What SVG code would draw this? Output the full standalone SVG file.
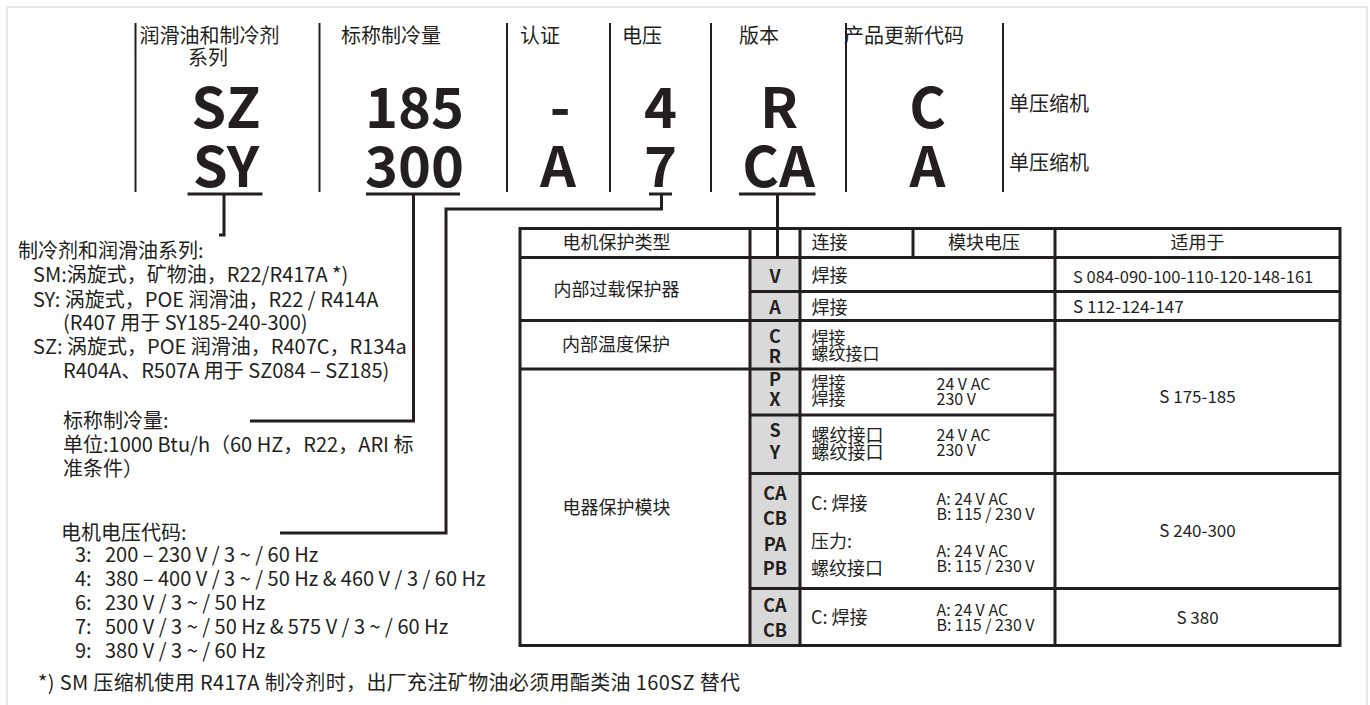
<svg xmlns="http://www.w3.org/2000/svg" width="1370" height="705" viewBox="0 0 1370 705">
<style>
text { font-family: "Noto Sans CJK SC", "Liberation Sans", sans-serif; fill: #231f20; }
.lbl { font-size: 20px; }
.big { font-size: 56px; font-weight: 700; text-anchor: middle; }
.txt { font-size: 20px; }
.foot { font-size: 20px; letter-spacing: 0.35px; }
.tb { font-size: 17px; }
.tv { font-size: 16px; }
.tc { font-size: 18px; }
.ts { font-size: 17px; }
.mid { text-anchor: middle; }
.code { font-size: 18px; font-weight: 700; text-anchor: middle; }
.div { stroke: #231f20; stroke-width: 2; }
.conn { stroke: #231f20; stroke-width: 3; fill: none; }
.tl { stroke: #231f20; stroke-width: 3; fill: none; }
</style>
<rect x="0" y="0" width="1370" height="705" fill="#ffffff"/>
<rect x="7" y="7" width="1360" height="720" fill="#ffffff" stroke="#e4e7eb" stroke-width="2"/>

<g id="header-dividers">
  <line class="div" x1="135.5" y1="23" x2="135.5" y2="192"/>
  <line class="div" x1="319.5" y1="23" x2="319.5" y2="192"/>
  <line class="div" x1="507" y1="23" x2="507" y2="192"/>
  <line class="div" x1="610" y1="23" x2="610" y2="192"/>
  <line class="div" x1="711" y1="23" x2="711" y2="192"/>
  <line class="div" x1="846" y1="23" x2="846" y2="192"/>
  <line class="div" x1="1003" y1="23" x2="1003" y2="192"/>
</g>

<g id="col-series">
  <text class="lbl mid" x="209.5" y="43">润滑油和制冷剂</text>
  <text class="lbl mid" x="208" y="65">系列</text>
  <text class="big" x="226" y="128">SZ</text>
  <text class="big" x="226" y="187">SY</text>
</g>
<g id="col-capacity">
  <text class="lbl" x="341" y="43">标称制冷量</text>
  <text class="big" x="414.5" y="128">185</text>
  <text class="big" x="414.5" y="187">300</text>
</g>
<g id="col-approval">
  <text class="lbl" x="520" y="43">认证</text>
  <text class="big" x="560" y="128">-</text>
  <text class="big" x="558" y="187">A</text>
</g>
<g id="col-voltage">
  <text class="lbl" x="622" y="43">电压</text>
  <text class="big" x="660.5" y="128">4</text>
  <text class="big" x="660.5" y="187">7</text>
</g>
<g id="col-version">
  <text class="lbl" x="739" y="43">版本</text>
  <text class="big" x="779" y="128">R</text>
  <text class="big" x="778.5" y="187">CA</text>
</g>
<g id="col-update">
  <text class="lbl" x="844" y="43">产品更新代码</text>
  <text class="big" x="927.5" y="128">C</text>
  <text class="big" x="927.5" y="187">A</text>
</g>
<g id="col-type">
  <text class="lbl" x="1009" y="111">单压缩机</text>
  <text class="lbl" x="1009" y="170">单压缩机</text>
</g>

<g id="connectors">
  <line class="conn" x1="187.5" y1="194" x2="262.5" y2="194"/>
  <path class="conn" d="M224 194 V235 H219"/>
  <line class="conn" x1="366" y1="194" x2="460" y2="194"/>
  <path class="conn" d="M413.5 194 V421 H250"/>
  <line class="conn" x1="649" y1="194" x2="672" y2="194"/>
  <path class="conn" d="M661.5 194 V209 H446 V533 H280"/>
  <line class="conn" x1="739" y1="194" x2="815.5" y2="194"/>
  <path class="conn" d="M777.5 194 V257"/>
</g>

<g id="note-series">
  <text class="txt" x="18" y="258">制冷剂和润滑油系列:</text>
  <text class="txt" x="33" y="282">SM:涡旋式，矿物油，R22/R417A *)</text>
  <text class="txt" x="33" y="307">SY: 涡旋式，POE 润滑油，R22 / R414A</text>
  <text class="txt" x="63" y="330">(R407 用于 SY185-240-300)</text>
  <text class="txt" x="33" y="354">SZ: 涡旋式，POE 润滑油，R407C，R134a</text>
  <text class="txt" x="63" y="378">R404A、R507A 用于 SZ084 – SZ185)</text>
</g>
<g id="note-capacity">
  <text class="txt" x="63" y="428">标称制冷量:</text>
  <text class="txt" x="63" y="452">单位:1000 Btu/h（60 HZ，R22，ARI 标</text>
  <text class="txt" x="63" y="476">准条件）</text>
</g>
<g id="note-voltage">
  <text class="txt" x="61" y="540">电机电压代码:</text>
  <text class="txt" x="75" y="562">3:</text><text class="txt" x="105" y="562">200 – 230 V / 3 ~ / 60 Hz</text>
  <text class="txt" x="75" y="586">4:</text><text class="txt" x="105" y="586">380 – 400 V / 3 ~ / 50 Hz &amp; 460 V / 3 / 60 Hz</text>
  <text class="txt" x="75" y="610">6:</text><text class="txt" x="105" y="610">230 V / 3 ~ / 50 Hz</text>
  <text class="txt" x="75" y="634">7:</text><text class="txt" x="105" y="634">500 V / 3 ~ / 50 Hz &amp; 575 V / 3 ~ / 60 Hz</text>
  <text class="txt" x="75" y="658">9:</text><text class="txt" x="105" y="658">380 V / 3 ~ / 60 Hz</text>
</g>
<g id="footnote">
  <text class="foot" x="38" y="690">*) SM 压缩机使用 R417A 制冷剂时，出厂充注矿物油必须用酯类油 160SZ 替代</text>
</g>

<g id="protection-table">
  <rect x="750" y="257.5" width="50" height="388" fill="#d9d9d9"/>
  <rect class="tl" x="520" y="228.5" width="820" height="417"/>
  <line class="tl" x1="520" y1="257.5" x2="1340" y2="257.5"/>
  <line class="tl" x1="750" y1="228.5" x2="750" y2="645.5"/>
  <line class="tl" x1="800" y1="228.5" x2="800" y2="645.5"/>
  <line class="tl" x1="1055" y1="228.5" x2="1055" y2="645.5"/>
  <line class="tl" x1="913" y1="228.5" x2="913" y2="257.5"/>
  <line class="tl" x1="750" y1="291.5" x2="1340" y2="291.5"/>
  <line class="tl" x1="520" y1="320.5" x2="1340" y2="320.5"/>
  <line class="tl" x1="520" y1="369" x2="1055" y2="369"/>
  <line class="tl" x1="750" y1="415" x2="1055" y2="415"/>
  <line class="tl" x1="750" y1="473.5" x2="1340" y2="473.5"/>
  <line class="tl" x1="750" y1="588.5" x2="1340" y2="588.5"/>

  <text class="tc mid" x="616.5" y="249">电机保护类型</text>
  <text class="tc" x="811.5" y="249">连接</text>
  <text class="tc mid" x="984" y="249">模块电压</text>
  <text class="tc mid" x="1197.5" y="249">适用于</text>

  <text class="tc mid" x="616.5" y="296">内部过载保护器</text>
  <text class="code" x="775" y="283">V</text>
  <text class="tc" x="811.5" y="282">焊接</text>
  <text class="tb" x="1073" y="283" style="font-size:16.5px">S 084-090-100-110-120-148-161</text>
  <text class="code" x="775" y="314">A</text>
  <text class="tc" x="811.5" y="314">焊接</text>
  <text class="tb" x="1073" y="313">S 112-124-147</text>

  <text class="tc mid" x="616" y="351">内部温度保护</text>
  <text class="code" x="775" y="343">C<tspan x="775" dy="20">R</tspan></text>
  <text class="ts" x="811.5" y="344">焊接<tspan x="811.5" dy="16">螺纹接口</tspan></text>
  <text class="tb mid" x="1197.5" y="403">S 175-185</text>

  <text class="code" x="775" y="386">P<tspan x="775" dy="20">X</tspan></text>
  <text class="ts" x="811.5" y="389">焊接<tspan x="811.5" dy="16">焊接</tspan></text>
  <text class="tv" x="936.5" y="390">24 V AC<tspan x="936.5" dy="15">230 V</tspan></text>

  <text class="code" x="775" y="437">S<tspan x="775" dy="22">Y</tspan></text>
  <text class="tc" x="811.5" y="442">螺纹接口<tspan x="811.5" dy="17">螺纹接口</tspan></text>
  <text class="tv" x="936.5" y="441">24 V AC<tspan x="936.5" dy="15">230 V</tspan></text>

  <text class="tc mid" x="616.5" y="514">电器保护模块</text>
  <text class="code" x="775" y="500">CA<tspan x="775" dy="25">CB</tspan><tspan x="775" dy="26">PA</tspan><tspan x="775" dy="24">PB</tspan></text>
  <text class="tc" x="811" y="510">C: 焊接</text>
  <text class="tc" x="811" y="548">压力:<tspan x="811" dy="27">螺纹接口</tspan></text>
  <text class="tv" x="936.5" y="505">A: 24 V AC<tspan x="936.5" dy="15">B: 115 / 230 V</tspan></text>
  <text class="tv" x="936.5" y="557">A: 24 V AC<tspan x="936.5" dy="15">B: 115 / 230 V</tspan></text>
  <text class="tb mid" x="1197.5" y="537">S 240-300</text>

  <text class="code" x="775" y="612">CA<tspan x="775" dy="25">CB</tspan></text>
  <text class="tc" x="811" y="624">C: 焊接</text>
  <text class="tv" x="936.5" y="616">A: 24 V AC<tspan x="936.5" dy="15">B: 115 / 230 V</tspan></text>
  <text class="tb mid" x="1197.5" y="624">S 380</text>
</g>
</svg>
